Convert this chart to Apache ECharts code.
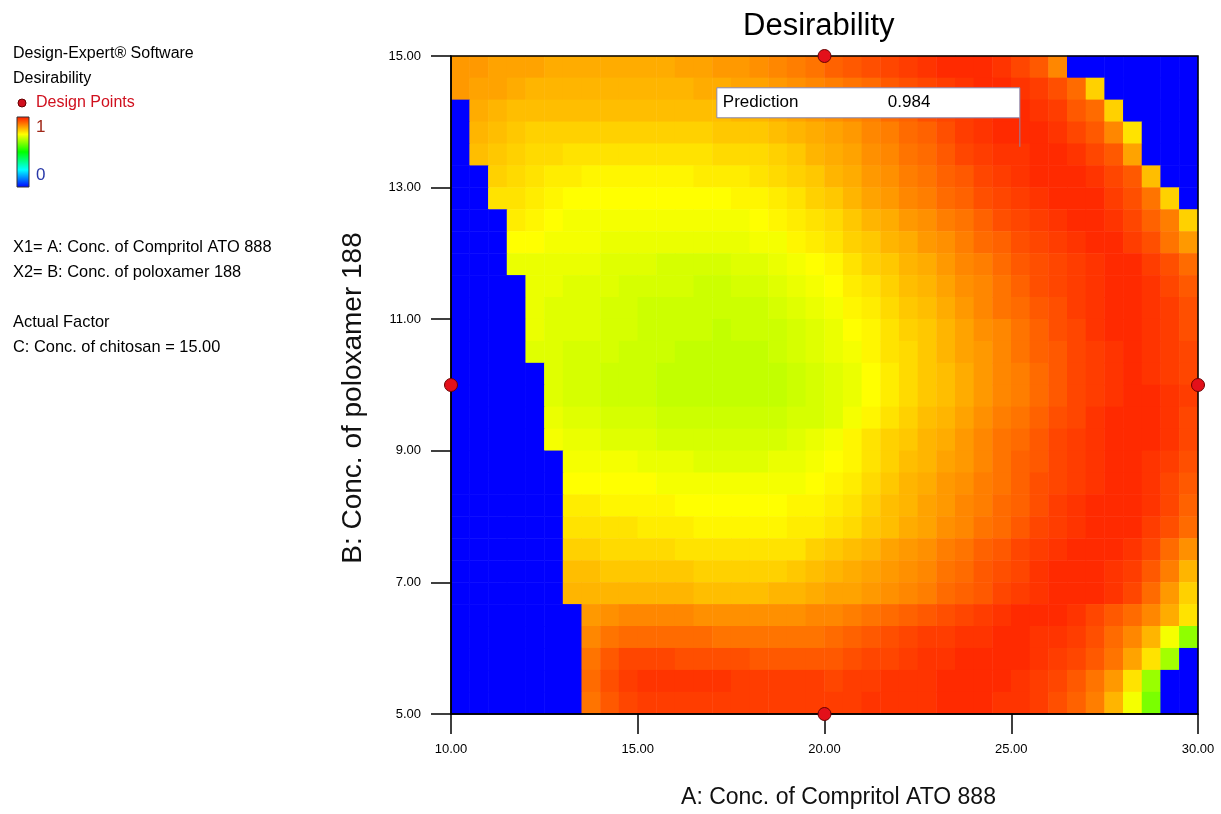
<!DOCTYPE html>
<html>
<head>
<meta charset="utf-8">
<title>Desirability</title>
<script src="https://cdn.jsdelivr.net/npm/echarts@6/dist/echarts.min.js"></script>
<style>
html, body { margin: 0; padding: 0; background: #fff; }
#chart { width: 1221px; height: 814px; }
</style>
</head>
<body>
<div id="chart"></div>
<script>
// cell centres of the response grid, A = Compritol ATO 888, B = poloxamer 188 (top row first)
var colsA = [10.25, 10.75, 11.25, 11.75, 12.25, 12.75, 13.25, 13.75, 14.25, 14.75,
    15.25, 15.75, 16.25, 16.75, 17.25, 17.75, 18.25, 18.75, 19.25, 19.75,
    20.25, 20.75, 21.25, 21.75, 22.25, 22.75, 23.25, 23.75, 24.25, 24.75,
    25.25, 25.75, 26.25, 26.75, 27.25, 27.75, 28.25, 28.75, 29.25, 29.75];
var rowsB = [14.83, 14.5, 14.17, 13.83, 13.5, 13.17, 12.83, 12.5, 12.17, 11.83,
    11.5, 11.17, 10.83, 10.5, 10.17, 9.83, 9.5, 9.17, 8.83, 8.5,
    8.17, 7.83, 7.5, 7.17, 6.83, 6.5, 6.17, 5.83, 5.5, 5.17];

// desirability, one row per rowsB entry (0 = blue region)
var desirability = [
    [.86,.86,.85,.85,.85,.84,.84,.84,.84,.84,.84,.84,.85,.85,.86,.86,.87,.88,.89,.90, .92,.93,.94,.95,.96,.97,.98,.98,.98,.97,.95,.93,.88,0,0,0,0,0,0,0],
    [.86,.85,.85,.84,.83,.83,.83,.83,.83,.83,.83,.83,.83,.84,.84,.85,.85,.86,.87,.88, .89,.90,.91,.93,.94,.95,.96,.97,.98,.98,.97,.96,.94,.91,.80,0,0,0,0,0],
    [0,.84,.83,.82,.82,.82,.82,.82,.82,.82,.82,.82,.82,.82,.82,.83,.83,.84,.85,.86, .87,.88,.89,.91,.92,.94,.95,.96,.97,.98,.98,.97,.96,.93,.91,.80,0,0,0,0],
    [0,.83,.82,.81,.80,.80,.80,.80,.80,.80,.80,.80,.80,.80,.81,.81,.81,.82,.83,.84, .85,.86,.88,.89,.91,.92,.94,.96,.97,.98,.98,.98,.97,.95,.93,.88,.78,0,0,0],
    [0,.82,.81,.80,.79,.79,.78,.78,.78,.78,.78,.78,.78,.78,.79,.79,.79,.80,.81,.83, .84,.85,.87,.88,.90,.91,.93,.95,.96,.97,.97,.98,.98,.97,.95,.93,.85,0,0,0],
    [0,0,.80,.79,.78,.77,.77,.76,.76,.76,.76,.76,.76,.77,.77,.77,.78,.79,.80,.81, .83,.84,.86,.87,.89,.90,.92,.93,.95,.96,.97,.98,.98,.98,.97,.95,.93,.82,0,0],
    [0,0,.78,.78,.77,.76,.75,.75,.75,.75,.75,.75,.75,.75,.75,.76,.76,.77,.78,.80, .81,.83,.85,.86,.88,.89,.91,.92,.94,.95,.96,.97,.98,.98,.98,.96,.94,.90,.80,0],
    [0,0,0,.77,.76,.75,.74,.74,.74,.74,.74,.74,.74,.74,.74,.74,.75,.76,.77,.78, .79,.81,.83,.84,.86,.87,.89,.90,.92,.94,.95,.96,.97,.98,.98,.97,.95,.92,.89,.80],
    [0,0,0,.75,.75,.74,.74,.74,.73,.73,.73,.73,.73,.73,.73,.73,.74,.74,.76,.77, .78,.80,.81,.83,.84,.86,.87,.89,.91,.92,.94,.95,.96,.97,.98,.98,.96,.94,.90,.86],
    [0,0,0,.73,.73,.73,.73,.73,.72,.72,.72,.71,.71,.71,.71,.72,.72,.73,.74,.75, .76,.78,.80,.81,.83,.84,.86,.88,.89,.91,.93,.94,.95,.96,.97,.98,.98,.96,.94,.91],
    [0,0,0,0,.73,.73,.72,.72,.72,.71,.71,.71,.71,.70,.70,.71,.71,.72,.73,.74, .75,.77,.78,.80,.82,.83,.85,.87,.88,.90,.92,.94,.95,.96,.97,.98,.98,.97,.95,.93],
    [0,0,0,0,.73,.72,.72,.72,.71,.71,.70,.70,.70,.70,.70,.70,.70,.71,.72,.73, .74,.76,.77,.79,.81,.82,.84,.86,.88,.90,.91,.93,.94,.96,.97,.98,.98,.97,.96,.94],
    [0,0,0,0,.73,.72,.72,.72,.71,.71,.70,.70,.70,.70,.69,.70,.70,.70,.71,.72, .73,.75,.76,.78,.80,.81,.83,.85,.87,.88,.90,.92,.94,.95,.97,.98,.98,.97,.96,.94],
    [0,0,0,0,.72,.72,.71,.71,.71,.70,.70,.70,.69,.69,.69,.69,.69,.70,.71,.72, .73,.74,.76,.78,.79,.81,.83,.85,.86,.88,.90,.92,.93,.95,.96,.97,.98,.97,.96,.95],
    [0,0,0,0,0,.72,.71,.71,.70,.70,.70,.69,.69,.69,.69,.69,.69,.69,.70,.71, .72,.73,.75,.77,.79,.81,.82,.84,.86,.88,.89,.91,.93,.95,.96,.97,.98,.97,.96,.95],
    [0,0,0,0,0,.72,.71,.71,.70,.70,.70,.69,.69,.69,.69,.69,.69,.69,.70,.71, .72,.73,.75,.77,.79,.81,.82,.84,.86,.88,.89,.91,.93,.95,.96,.97,.98,.98,.97,.96],
    [0,0,0,0,0,.73,.72,.72,.71,.71,.71,.70,.70,.70,.70,.70,.70,.70,.71,.71, .72,.74,.76,.78,.80,.82,.83,.85,.87,.89,.90,.92,.94,.95,.97,.98,.98,.98,.97,.95],
    [0,0,0,0,0,.74,.73,.73,.72,.72,.72,.71,.71,.71,.71,.71,.71,.71,.72,.73, .74,.76,.78,.80,.81,.83,.84,.86,.88,.90,.91,.93,.95,.96,.97,.98,.98,.98,.97,.95],
    [0,0,0,0,0,0,.74,.74,.74,.74,.73,.73,.73,.72,.72,.72,.72,.73,.73,.74, .75,.76,.78,.80,.82,.83,.85,.86,.88,.90,.92,.93,.95,.96,.97,.98,.98,.97,.96,.94],
    [0,0,0,0,0,0,.75,.75,.75,.75,.75,.74,.74,.74,.74,.74,.74,.74,.74,.75, .76,.77,.79,.81,.83,.84,.86,.87,.89,.90,.92,.94,.95,.96,.97,.98,.98,.97,.95,.93],
    [0,0,0,0,0,0,.77,.77,.76,.76,.76,.76,.75,.75,.75,.75,.75,.75,.76,.76, .77,.78,.80,.82,.83,.85,.86,.88,.89,.91,.92,.94,.96,.97,.98,.98,.98,.97,.95,.92],
    [0,0,0,0,0,0,.78,.78,.78,.78,.77,.77,.77,.76,.76,.76,.76,.76,.77,.77, .78,.79,.81,.82,.84,.85,.87,.88,.90,.91,.93,.95,.96,.97,.98,.98,.98,.96,.94,.91],
    [0,0,0,0,0,0,.80,.80,.79,.79,.79,.79,.78,.78,.78,.78,.78,.78,.78,.80, .81,.82,.83,.85,.86,.87,.89,.90,.92,.93,.95,.96,.97,.98,.98,.98,.97,.95,.91,.87],
    [0,0,0,0,0,0,.82,.82,.81,.81,.81,.81,.81,.80,.80,.80,.80,.80,.81,.82, .83,.84,.85,.86,.87,.88,.90,.91,.93,.94,.95,.97,.98,.98,.98,.97,.96,.93,.89,.83],
    [0,0,0,0,0,0,.83,.83,.83,.83,.83,.83,.83,.82,.82,.82,.82,.83,.83,.84, .85,.85,.86,.87,.88,.89,.91,.92,.93,.95,.96,.97,.98,.98,.98,.97,.95,.91,.86,.80],
    [0,0,0,0,0,0,0,.86,.87,.88,.88,.88,.88,.87,.87,.87,.87,.87,.87,.88, .88,.89,.90,.91,.92,.93,.94,.95,.96,.97,.98,.98,.98,.97,.95,.93,.91,.88,.84,.78],
    [0,0,0,0,0,0,0,.88,.90,.91,.91,.91,.91,.91,.90,.90,.90,.90,.90,.90, .91,.92,.93,.94,.95,.96,.96,.97,.97,.98,.98,.97,.97,.96,.94,.91,.88,.83,.74,.64],
    [0,0,0,0,0,0,0,.90,.93,.95,.95,.95,.94,.94,.94,.94,.93,.93,.93,.93, .93,.94,.95,.95,.96,.97,.97,.98,.98,.98,.98,.97,.96,.95,.93,.90,.85,.78,.66,0],
    [0,0,0,0,0,0,0,.91,.94,.96,.97,.97,.97,.97,.97,.96,.96,.96,.96,.96, .95,.96,.96,.97,.97,.97,.98,.98,.98,.98,.97,.96,.95,.93,.90,.86,.78,.65,0,0],
    [0,0,0,0,0,0,0,.90,.93,.95,.96,.96,.96,.96,.96,.96,.96,.96,.96,.96, .96,.96,.97,.97,.97,.97,.98,.98,.98,.97,.97,.96,.94,.92,.89,.83,.74,.62,0,0]
];

// design points (A, B)
var designA = [20, 10, 30, 20];
var designB = [15, 10, 10, 5];

// flagged optimum
var predA = 25.23;
var predB = 13.62;
var predValue = 0.984;

var rampColors = ['#0000ff', '#00ffff', '#00ff00', '#ffff00', '#ff1800'];
var sans = "'Liberation Sans', Arial, sans-serif";

var chart = echarts.init(document.getElementById('chart'));

var cells = [];
for (var r = 0; r < desirability.length; r++) {
    for (var c = 0; c < colsA.length; c++) {
        cells.push([c, rowsB.length - 1 - r, desirability[r][c]]);
    }
}
var yCats = rowsB.slice().reverse().map(String);

var option = {
    animation: false,
    title: {
        text: 'Desirability',
        left: 743,
        top: 11,
        padding: 0,
        textStyle: { fontFamily: sans, fontSize: 31, fontWeight: 'normal', color: '#000' }
    },
    grid: [
        { left: 451, top: 56, width: 747, height: 658 },
        { left: 451, top: 56, width: 747, height: 658, show: true, z: 10,
          backgroundColor: 'transparent', borderColor: '#000', borderWidth: 1.5 }
    ],
    xAxis: [
        { type: 'category', gridIndex: 0, data: colsA.map(String), show: false },
        {
            type: 'value', gridIndex: 1, min: 10, max: 30, interval: 5, z: 10,
            axisLine: { show: true, onZero: false, lineStyle: { color: '#000', width: 1.5 } },
            axisTick: { show: true, length: 20, lineStyle: { color: '#000', width: 1.5 } },
            axisLabel: {
                margin: 29, fontFamily: sans, fontSize: 13, color: '#000',
                formatter: function (v) { return v.toFixed(2); }
            },
            splitLine: { show: false },
            name: 'A: Conc. of Compritol ATO 888',
            nameLocation: 'middle',
            nameGap: 72,
            nameTextStyle: { fontFamily: sans, fontSize: 23, color: '#111', padding: [0, 0, 0, 28] }
        }
    ],
    yAxis: [
        { type: 'category', gridIndex: 0, data: yCats, show: false },
        {
            type: 'value', gridIndex: 1, min: 5, max: 15, interval: 2, z: 10,
            axisLine: { show: true, onZero: false, lineStyle: { color: '#000', width: 1.5 } },
            axisTick: { show: true, length: 20, lineStyle: { color: '#000', width: 1.5 } },
            axisLabel: {
                margin: 30, fontFamily: sans, fontSize: 13, color: '#000',
                formatter: function (v) { return v.toFixed(2); }
            },
            splitLine: { show: false },
            name: 'B: Conc. of poloxamer 188',
            nameLocation: 'middle',
            nameGap: 84,
            nameRotate: 90,
            nameTextStyle: { fontFamily: sans, fontSize: 28, color: '#111', padding: [0, 26, 0, 0] }
        }
    ],
    visualMap: {
        type: 'continuous',
        show: false,
        min: 0,
        max: 1,
        dimension: 2,
        seriesIndex: 0,
        inRange: { color: rampColors }
    },
    series: [
        {
            type: 'heatmap',
            xAxisIndex: 0,
            yAxisIndex: 0,
            data: cells,
            z: 1,
            progressive: 0,
            emphasis: { disabled: true },
            itemStyle: { borderWidth: 0 }
        },
        {
            type: 'scatter',
            xAxisIndex: 1,
            yAxisIndex: 1,
            z: 20,
            clip: false,
            symbolSize: 13,
            data: designA.map(function (a, i) { return [a, designB[i]]; }),
            itemStyle: { color: '#e3101a', borderColor: '#6a0000', borderWidth: 1, opacity: 1 }
        }
    ]
};
chart.setOption(option);

// legend block and prediction flag
var tip = chart.convertToPixel({ gridIndex: 1 }, [predA, predB]);
var rampStops = rampColors.map(function (col, i) {
    return { offset: i / (rampColors.length - 1), color: col };
});
function label(txt, x, y, col, size) {
    return {
        type: 'text', x: x, y: y, z: 100,
        style: { text: txt, fill: col, fontSize: size, fontFamily: sans, verticalAlign: 'middle' }
    };
}
chart.setOption({
    graphic: [
        label('Design-Expert\u00ae Software', 13, 54, '#000', 16),
        label('Desirability', 13, 79, '#000', 16),
        { type: 'circle', z: 100, shape: { cx: 22, cy: 103, r: 4 }, style: { fill: '#d0101e', stroke: '#600', lineWidth: 1 } },
        label('Design Points', 36, 103, '#d0101e', 16),
        {
            type: 'rect', z: 100,
            shape: { x: 17, y: 117, width: 12, height: 70 },
            style: {
                fill: new echarts.graphic.LinearGradient(0, 1, 0, 0, rampStops),
                stroke: '#333', lineWidth: 1
            }
        },
        label('1', 36, 127, '#a02818', 17),
        label('0', 36, 175, '#2838a8', 17),
        label('X1= A: Conc. of Compritol ATO 888', 13, 247, '#000', 16.4),
        label('X2= B: Conc. of poloxamer 188', 13, 272, '#000', 16.4),
        label('Actual Factor', 13, 322, '#000', 16.4),
        label('C: Conc. of chitosan = 15.00', 13, 347, '#000', 16.4),
        {
            type: 'line', z: 100,
            shape: { x1: tip[0], y1: tip[1] - 29, x2: tip[0], y2: tip[1] },
            style: { stroke: '#8888b0', lineWidth: 1 }
        },
        {
            type: 'rect', z: 100,
            shape: { x: tip[0] - 303, y: tip[1] - 59, width: 303, height: 30 },
            style: { fill: '#fff', stroke: '#8888b0', lineWidth: 1 }
        },
        label('Prediction', tip[0] - 297, tip[1] - 44, '#000', 17),
        label(predValue.toFixed(3), tip[0] - 132, tip[1] - 44, '#000', 17)
    ]
});
</script>
</body>
</html>
